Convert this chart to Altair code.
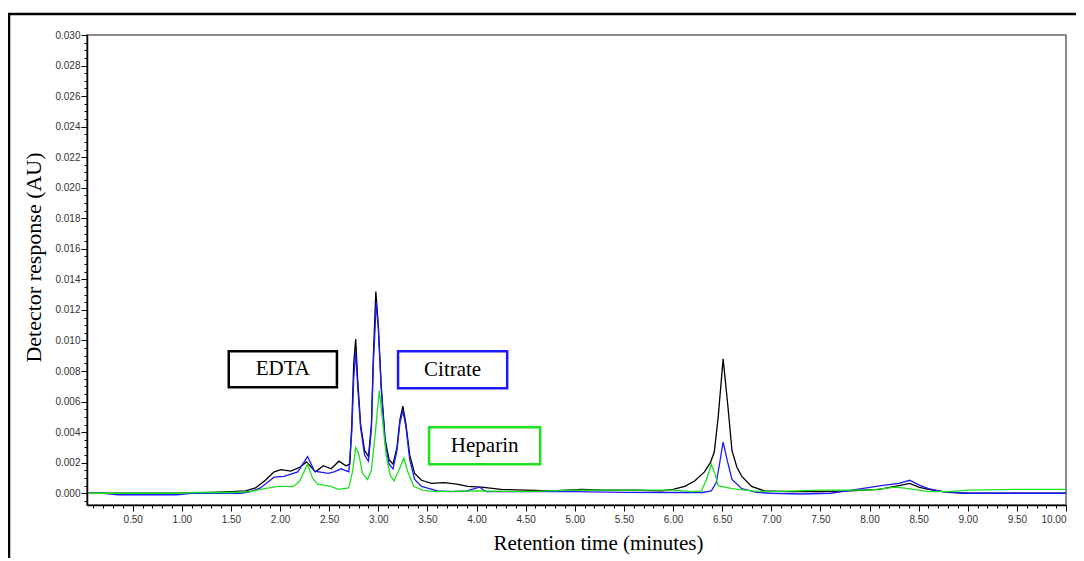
import altair as alt
import pandas as pd

# Retention time (minutes) and detector response (x 1e-3 AU)
edta_t = [0.05, 0.5, 1.0, 1.3, 1.5, 1.65, 1.75, 1.85, 1.94, 2.01, 2.11, 2.2, 2.27, 2.36, 2.44, 2.52, 2.60, 2.67, 2.71,
          2.73, 2.75, 2.77, 2.79, 2.82, 2.86, 2.90, 2.93, 2.95, 2.975, 3.00, 3.03, 3.07, 3.11, 3.15, 3.19, 3.22, 3.25,
          3.28, 3.32, 3.37, 3.44, 3.54, 3.67, 3.80, 3.91, 4.05, 4.25, 4.5, 4.76, 5.07, 5.3, 5.6, 5.88, 6.0, 6.12, 6.22,
          6.32, 6.38, 6.42, 6.46, 6.51, 6.56, 6.60, 6.65, 6.70, 6.80, 6.93, 7.2, 7.5, 7.8, 8.1, 8.3, 8.41, 8.5, 8.6,
          8.8, 9.0, 9.5, 10.0]
edta_v = [0.0, 0.0, 0.0, 0.05, 0.1, 0.15, 0.35, 0.85, 1.4, 1.55, 1.45, 1.7, 2.05, 1.4, 1.8, 1.6, 2.1, 1.8, 1.9,
          4.5, 8.5, 10.1, 7.5, 4.5, 2.8, 2.4, 4.5, 9.0, 13.2, 11.0, 7.0, 3.5, 2.2, 1.9, 3.0, 4.8, 5.7,
          4.6, 2.5, 1.3, 0.85, 0.65, 0.7, 0.6, 0.45, 0.4, 0.25, 0.2, 0.15, 0.25, 0.2, 0.2, 0.15, 0.25, 0.45, 0.8,
          1.4, 2.0, 2.7, 5.0, 8.8, 5.6, 2.8, 1.7, 1.1, 0.45, 0.15, 0.1, 0.1, 0.15, 0.25, 0.5, 0.65, 0.4, 0.25,
          0.05, 0.0, 0.0, 0.0]

citrate_t = [0.05, 0.2, 0.35, 0.95, 1.1, 1.5, 1.6, 1.7, 1.8, 1.87, 1.94, 2.04, 2.18, 2.28, 2.35, 2.49, 2.55, 2.62, 2.70,
             2.73, 2.75, 2.77, 2.79, 2.82, 2.86, 2.90, 2.93, 2.95, 2.98, 3.00, 3.03, 3.07, 3.11, 3.15, 3.19, 3.22, 3.25,
             3.28, 3.32, 3.37, 3.44, 3.6, 3.74, 3.9, 4.03, 4.1, 4.5, 5.0, 5.5, 6.0, 6.3, 6.39, 6.44, 6.47, 6.51, 6.55,
             6.60, 6.70, 6.85, 7.0, 7.3, 7.6, 7.82, 8.12, 8.3, 8.41, 8.5, 8.6, 8.74, 9.0, 10.0]
citrate_v = [0.0, 0.0, -0.1, -0.1, 0.0, 0.0, 0.0, 0.1, 0.35, 0.7, 1.05, 1.1, 1.4, 2.4, 1.45, 1.3, 1.4, 1.6, 1.4,
             4.0, 7.5, 9.3, 7.0, 4.3, 2.5, 2.1, 4.2, 8.5, 12.5, 10.8, 6.8, 3.3, 1.9, 1.6, 2.8, 4.6, 5.4,
             4.4, 2.2, 0.9, 0.45, 0.15, 0.1, 0.15, 0.4, 0.1, 0.1, 0.1, 0.05, 0.05, 0.05, 0.15, 0.7, 1.8, 3.35, 2.2,
             0.9, 0.3, 0.05, 0.0, -0.05, 0.0, 0.2, 0.5, 0.65, 0.85, 0.55, 0.3, 0.1, 0.0, 0.0]

heparin_t = [0.05, 1.0, 1.15, 1.5, 1.7, 1.8, 1.98, 2.14, 2.2, 2.28, 2.33, 2.38, 2.52, 2.59, 2.70, 2.74, 2.77, 2.80,
             2.84, 2.89, 2.93, 2.97, 3.01, 3.04, 3.08, 3.12, 3.16, 3.21, 3.26, 3.30, 3.36, 3.45, 3.57, 4.0, 4.5, 5.0,
             5.5, 6.0, 6.2, 6.29, 6.34, 6.39, 6.43, 6.46, 6.60, 6.8, 7.0, 7.5, 8.0, 8.26, 8.4, 8.6, 8.8, 9.0, 9.5, 10.0]
heparin_v = [0.0, 0.0, 0.05, 0.05, 0.1, 0.25, 0.45, 0.45, 0.8, 1.9, 1.0, 0.6, 0.45, 0.25, 0.35, 1.5, 3.0, 2.6,
             1.3, 0.9, 1.5, 4.0, 6.7, 5.0, 2.5, 1.2, 0.8, 1.5, 2.3, 1.4, 0.45, 0.2, 0.1, 0.15, 0.1, 0.2,
             0.2, 0.2, 0.1, 0.15, 0.9, 1.9, 1.2, 0.5, 0.3, 0.15, 0.1, 0.2, 0.2, 0.4, 0.3, 0.1, 0.1, 0.2, 0.25, 0.25]

series_names = ["EDTA", "Citrate", "Heparin"]
series_colors = ["#000000", "#1a1aff", "#1fe01f"]

# Annotation boxes (labels, box extents in data units)
box_labels = ["EDTA", "Citrate", "Heparin"]
box_x1 = [1.478, 3.201, 3.517]
box_x2 = [2.579, 4.312, 4.648]
box_y1 = [0.00930, 0.00930, 0.00432]
box_y2 = [0.00694, 0.00688, 0.00190]

x_major_ticks = [0.5, 1.0, 1.5, 2.0, 2.5, 3.0, 3.5, 4.0, 4.5, 5.0, 5.5, 6.0, 6.5, 7.0, 7.5, 8.0, 8.5, 9.0, 9.5, 10.0]
y_major_ticks = [0.000, 0.002, 0.004, 0.006, 0.008, 0.010, 0.012, 0.014, 0.016, 0.018, 0.020, 0.022, 0.024,
                 0.026, 0.028, 0.030]
x_minor_ticks = [round(i * 0.1, 1) for i in range(1, 101)]
y_minor_ticks = [round(i * 0.0005, 4) for i in range(-1, 61)]

frames = []
for name, ts, vs in [("EDTA", edta_t, edta_v), ("Citrate", citrate_t, citrate_v), ("Heparin", heparin_t, heparin_v)]:
    frames.append(pd.DataFrame({"series": name, "t": ts, "v": [v / 1000 for v in vs]}))
df_all = pd.concat(frames, ignore_index=True)

boxes = pd.DataFrame({"label": box_labels, "x1": box_x1, "x2": box_x2, "y1": box_y1, "y2": box_y2,
                      "color": series_colors})
boxes["xc"] = (boxes["x1"] + boxes["x2"]) / 2
boxes["yc"] = (boxes["y1"] + boxes["y2"]) / 2

W, H = 979, 470
xs = alt.Scale(domain=[0.035, 10.0], nice=False, zero=False)
ys = alt.Scale(domain=[-0.00077, 0.030], nice=False, zero=False)

lab = dict(labelFont="Liberation Sans", labelFontSize=10, labelColor="#333333")

x_major = alt.Axis(values=x_major_ticks, format=".2f", orient="bottom", tickSize=6, tickColor="#000",
                   domainColor="#000", domainWidth=1.5, labelPadding=3, grid=False,
                   title="Retention time (minutes)", titleFont="Liberation Serif", titleFontSize=21,
                   titleFontWeight="normal", titleColor="#000", titleX=511, titleY=38, titleBaseline="middle",
                   titleAlign="center", **lab)
y_major = alt.Axis(values=y_major_ticks, format=".3f", orient="left", tickSize=6, tickColor="#000",
                   domainColor="#000", domainWidth=1.5, labelPadding=1, grid=False,
                   title="Detector response (AU)", titleFont="Liberation Serif", titleFontSize=22,
                   titleFontWeight="normal", titleColor="#000", titleX=-54, titleY=222, titleAngle=-90,
                   titleBaseline="middle", titleAlign="center", **lab)
x_minor = alt.Axis(values=x_minor_ticks, orient="bottom", tickSize=3, tickColor="#000", labels=False,
                   domain=False, grid=False, title=None)
y_minor = alt.Axis(values=y_minor_ticks, orient="left", tickSize=3, tickColor="#000", labels=False,
                   domain=False, grid=False, title=None)

one = pd.DataFrame({"a": [0]})
frame_top = alt.Chart(one).mark_rule(color="#000", strokeWidth=2.5).encode(
    x=alt.value(-79), x2=alt.value(995), y=alt.value(-21))
frame_left = alt.Chart(one).mark_rule(color="#000", strokeWidth=2.5).encode(
    x=alt.value(-78), y=alt.value(-22), y2=alt.value(530))

minor_layer = alt.Chart(df_all).mark_point(opacity=0).encode(
    x=alt.X("t:Q", scale=xs, axis=x_minor), y=alt.Y("v:Q", scale=ys, axis=y_minor))


def line_layer(name, color, axes):
    d = df_all[df_all["series"] == name]
    return alt.Chart(d).mark_line(color=color, strokeWidth=1.3).encode(
        x=alt.X("t:Q", scale=xs, axis=x_major if axes else None),
        y=alt.Y("v:Q", scale=ys, axis=y_major if axes else None),
        order="t:Q")


black = line_layer("EDTA", series_colors[0], True)
blue = line_layer("Citrate", series_colors[1], False)
green = line_layer("Heparin", series_colors[2], False)

rects = alt.Chart(boxes).mark_rect(fill="white", strokeWidth=2.5).encode(
    x=alt.X("x1:Q", scale=xs, axis=None), x2="x2:Q",
    y=alt.Y("y1:Q", scale=ys, axis=None), y2="y2:Q",
    stroke=alt.Color("color:N", scale=None))
texts = alt.Chart(boxes).mark_text(font="Liberation Serif", fontSize=21, color="#000", baseline="middle").encode(
    x=alt.X("xc:Q", scale=xs, axis=None), y=alt.Y("yc:Q", scale=ys, axis=None), text="label:N")

chart = alt.layer(frame_top, frame_left, minor_layer, black, blue, green, rects, texts).resolve_axis(
    x="independent", y="independent"
).properties(
    width=W, height=H,
    padding={"left": 79, "top": 27, "right": 10, "bottom": 53},
    autosize=alt.AutoSizeParams(type="none"),
    background="white",
).configure_view(stroke="#666666", strokeWidth=1.5)

chart.save("out.html", embed_options={"renderer": "svg", "actions": False})
